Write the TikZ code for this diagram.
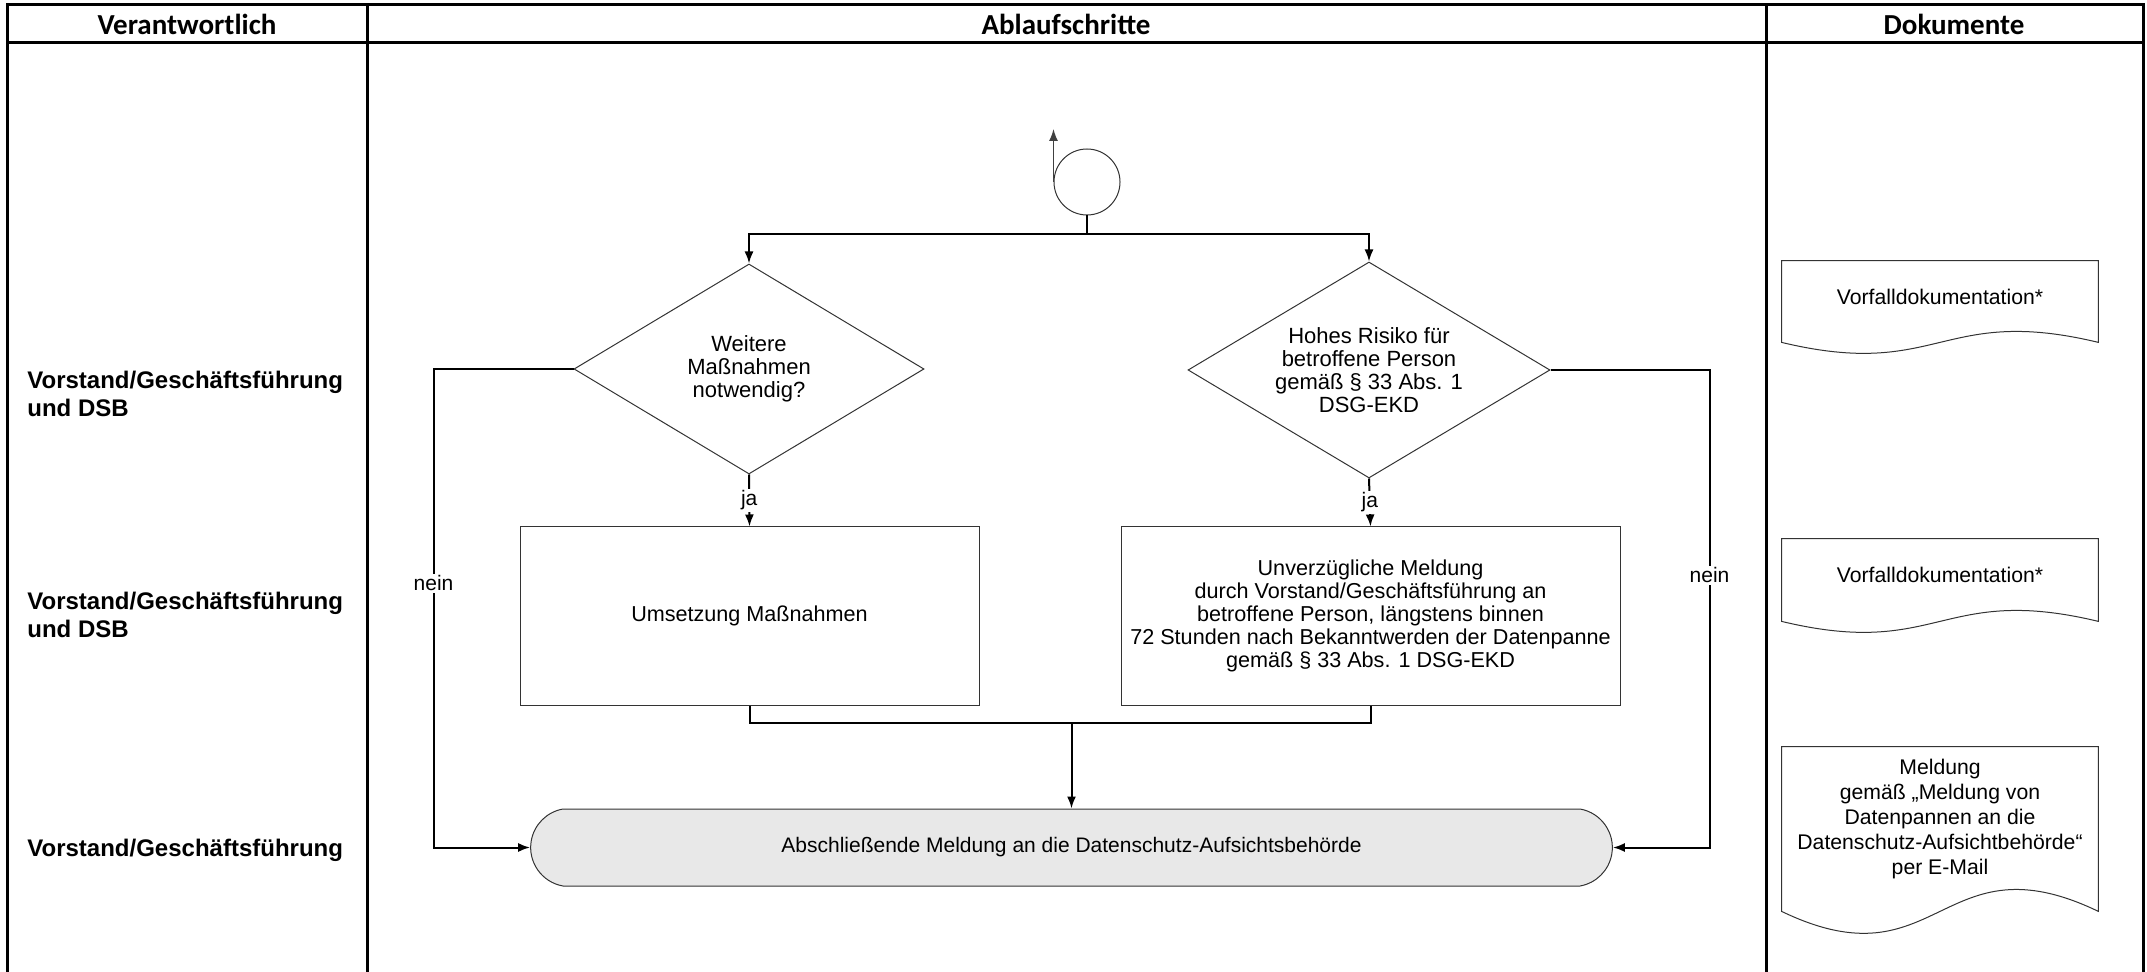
\documentclass[tikz,border=0pt]{standalone}
\usepackage{fontspec}
\setmainfont{Liberation Sans}
\newfontfamily\headfont{Carlito}
\usetikzlibrary{arrows.meta,shapes.geometric,shapes.misc}
\usetikzlibrary{positioning}

\tikzset{
  frameline/.style={line width=1.5pt},
  plain/.style={line width=1pt},
  flow/.style={line width=1pt,-{Latex[length=6pt,width=4.5pt]}},
  decision/.style={diamond,draw=black!80,line width=0.5pt,align=center,inner sep=0pt,font=\fontsize{11}{11.6}\selectfont},
  process/.style={rectangle,draw=black!80,line width=0.5pt,align=center,inner xsep=1pt,font=\fontsize{10.8}{11.6}\selectfont},
  role/.style={anchor=west,align=left,inner sep=0pt,font=\fontsize{12}{13.7}\selectfont\bfseries},
  head/.style={font=\headfont\fontsize{14.5}{17}\selectfont\bfseries},
  answer/.style={fill=white,inner sep=1pt,font=\fontsize{10.5}{12}\selectfont},
  doctext/.style={align=center,inner sep=0pt,minimum width=158pt,font=\fontsize{10.6}{12.5}\selectfont},
  docline/.style={draw=black!80,line width=0.5pt}
}

\begin{document}
\begin{tikzpicture}[x=0.5pt,y=-0.5pt]
\useasboundingbox (0,0) rectangle (2147,972);

% table
\draw[frameline] (7,972) -- (7,5) -- (2143,5) -- (2143,972);
\draw[frameline] (7,43) -- (2143,43);
\draw[frameline] (367,5) -- (367,972);
\draw[frameline] (1766,5) -- (1766,972);
\node[head] (hresp) at (187,24) {Verantwortlich};
\node[head] (hsteps) at (1066,24) {Ablaufschritte};
\node[head] (hdocs) at (1954,24) {Dokumente};

% responsible
\node[role] (role1) at (27,394) {Vorstand/Geschäftsführung\\und DSB};
\node[role] (role2) at (27,615) {Vorstand/Geschäftsführung\\und DSB};
\node[role] (role3) at (27,850) {Vorstand/Geschäftsführung};

% steps
\node[circle,draw=black!80,line width=0.5pt,minimum size=33pt,inner sep=0pt] (start) at (1087,182) {};
\coordinate (back) at (start.west |- 0,129);
\coordinate (fork) at (start.south |- 0,234);
\node[decision,aspect=1.67,minimum width=175pt,minimum height=105pt] (d1) at (749,369) {Weitere\\Maßnahmen\\notwendig?};
\node[decision,aspect=1.68,minimum width=181pt,minimum height=108pt] (d2) at (1369,370) {Hohes Risiko für\\betroffene Person\\gemäß § 33 Abs. 1\\DSG-EKD};
\node[process,minimum width=229.5pt,minimum height=89pt] (b1) at (749.5,616) {Umsetzung Maßnahmen};
\node[process,minimum width=249.5pt,minimum height=89pt] (b2) at (1370.5,616) {Unverzügliche Meldung\\durch Vorstand/Geschäftsführung an\\betroffene Person, längstens binnen\\72 Stunden nach Bekanntwerden der Datenpanne\\gemäß § 33 Abs. 1 DSG-EKD};
\node[rounded rectangle,rounded rectangle arc length=160,draw=black!80,line width=0.5pt,fill=black!9,minimum width=547.5pt,minimum height=38.5pt,font=\fontsize{10.5}{12}\selectfont] (term) at (1071.5,847.5) {Abschließende Meldung an die Datenschutz-Aufsichtsbehörde};
\coordinate (join) at (term.north |- 0,723);

\draw[draw=black!75,line width=0.7pt,-{Latex[length=6pt,width=4.5pt]}] (start.west) -- (back);
\draw[plain] (start.south) -- (fork);
\draw[flow] (fork) -| (d1.north);
\draw[flow] (fork) -| (d2.north);
\draw[flow] (d1.south) -- node[answer]{ja} (b1.north);
\draw[flow] (d2.south) -- node[answer]{ja} (b2.north);
\draw[plain] (b1.south) |- (join) -| (b2.south);
\draw[flow] (join) -- (term.north);
\draw[flow] (d1.west) -- ++(-140,0) |- node[answer,pos=0.224]{nein} (term.west);
\draw[flow] (d2.east) -- ++(159,0) |- node[answer,pos=0.215]{nein} (term.east);

% documents
\node[doctext,minimum height=40.5pt] (doc1) at (1940,297) {Vorfalldokumentation*};
\node[doctext,minimum height=41pt] (doc2) at (1940,575) {Vorfalldokumentation*};
\node[doctext,minimum height=82pt] (doc3) at (1940,819) {Meldung\\gemäß „Meldung von\\Datenpannen an die\\Datenschutz-Aufsichtbehörde“\\per E-Mail};
\draw[docline] ([yshift=-2.25pt]doc1.south east) -- ([yshift=-2.25pt]doc1.north east) -- ([yshift=-2.25pt]doc1.north west) -- ([yshift=-2.25pt]doc1.south west) .. controls +(158,38) and +(-158,-38) .. ([yshift=-2.25pt]doc1.south east) -- cycle;
\draw[docline] ([yshift=-2.5pt]doc2.south east) -- ([yshift=-2.5pt]doc2.north east) -- ([yshift=-2.5pt]doc2.north west) -- ([yshift=-2.5pt]doc2.south west) .. controls +(158,38) and +(-158,-38) .. ([yshift=-2.5pt]doc2.south east) -- cycle;
\draw[docline] ([yshift=-5pt]doc3.south east) -- ([yshift=-5pt]doc3.north east) -- ([yshift=-5pt]doc3.north west) -- ([yshift=-5pt]doc3.south west) .. controls +(158,76) and +(-158,-76) .. ([yshift=-5pt]doc3.south east) -- cycle;
\end{tikzpicture}
\end{document}
